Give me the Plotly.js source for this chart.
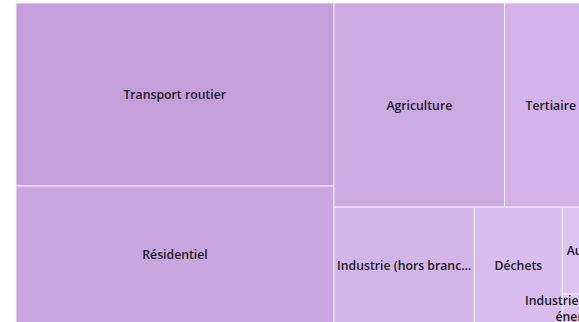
<!DOCTYPE html>
<html>
<head>
<meta charset="utf-8">
<script src="https://cdn.plot.ly/plotly-3.0.1.min.js"></script>
<style>
html, body { margin: 0; padding: 0; overflow: hidden; background: #ffffff; }
#chart { width: 613px; height: 326px; }
</style>
</head>
<body>
<div id="chart"></div>
<script>
// Sector names (full labels)
const sectors = [
  "Transport routier",
  "Résidentiel",
  "Agriculture",
  "Tertiaire",
  "Industrie (hors branche énergie)",
  "Déchets",
  "Autres transports",
  "Industrie (branche énergie)"
];
// Text shown inside each tile (as printed in the chart)
const shownLabels = [
  "Transport routier",
  "Résidentiel",
  "Agriculture",
  "Tertiaire",
  "Industrie (hors branc...",
  "Déchets",
  "Au...",
  "Industrie (branche<br>énergie)"
];
// Values estimated from tile areas
const values = [58000, 43400, 34700, 18800, 16200, 10150, 3000, 1000];
// Tile colours
const tileColors = [
  "#c49fdc", "#c9a6e0", "#cbaae2", "#d2b2e8",
  "#d3b6e9", "#d8bdee", "#dcc3f0", "#dec6f1"
];

const parents = sectors.map(() => "");

const trace = {
  type: "treemap",
  labels: sectors,
  parents: parents,
  values: values,
  text: shownLabels,
  texttemplate: "%{text}",
  textposition: "middle center",
  textfont: { family: "Open Sans, DejaVu Sans, sans-serif", size: 12.5, weight: 600, color: "#1c1a22" },
  marker: {
    colors: tileColors,
    line: { color: "#f2eef6", width: 1 },
    pad: { t: 0, l: 0, r: 0, b: 0 }
  },
  tiling: { packing: "squarify", squarifyratio: 1.618, pad: 0 },
  pathbar: { visible: false },
  sort: true,
  hoverinfo: "label+value"
};

const layout = {
  width: 613,
  height: 326,
  margin: { l: 16, r: 16, t: 3, b: 3, pad: 0 },
  paper_bgcolor: "#ffffff",
  uniformtext: { minsize: 12, mode: "show" },
  showlegend: false
};

Plotly.newPlot("chart", [trace], layout, { displayModeBar: false, staticPlot: true });
</script>
</body>
</html>
